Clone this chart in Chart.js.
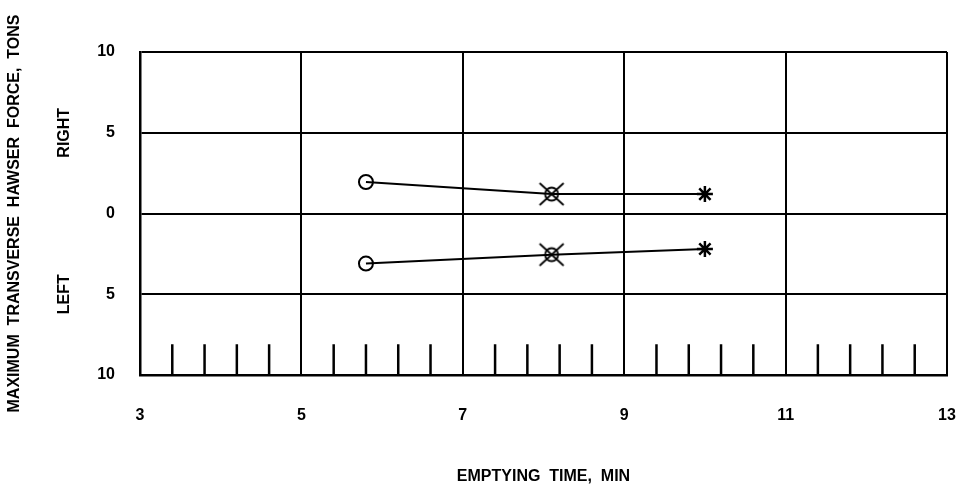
<!DOCTYPE html>
<html>
<head>
<meta charset="utf-8">
<script src="https://cdn.jsdelivr.net/npm/chart.js@4.4.1/dist/chart.umd.min.js"></script>
<style>
html,body{margin:0;padding:0;background:#fff;}
#wrap{width:960px;height:486px;position:relative;}
</style>
</head>
<body>
<div id="wrap"><canvas id="c" width="960" height="486"></canvas></div>
<script>
// ---- data ----
const emptyingTime = [5.8, 8.1, 10.0];           // minutes
const rightForce   = [1.95, 1.2, 1.2];           // tons (right, positive)
const leftForce    = [-3.1, -2.55, -2.2];        // tons (left, negative)
const minorTickX   = [3.4,3.8,4.2,4.6, 5.4,5.8,6.2,6.6, 7.4,7.8,8.2,8.6, 9.4,9.8,10.2,10.6, 11.4,11.8,12.2,12.6];
const minorTickTop = -8.1;
const xTickLabels  = ['3','5','7','9','11','13'];
const yTickLabels  = ['10','5','0','5','10'];
const xTitle = 'EMPTYING  TIME,  MIN';
const yTitle = 'MAXIMUM  TRANSVERSE  HAWSER  FORCE,  TONS';
const sideLabels = [{text:'RIGHT', y:5}, {text:'LEFT', y:-5}];

// ---- marker images ----
function crossedCircle(){
  const s = 28, c = document.createElement('canvas');
  c.width = s; c.height = s;
  const g = c.getContext('2d');
  g.strokeStyle = '#000'; g.lineWidth = 1.8;
  g.beginPath(); g.arc(s/2, s/2, 6.5, 0, Math.PI*2); g.stroke();
  g.beginPath(); g.moveTo(2,3); g.lineTo(26,25); g.moveTo(26,3); g.lineTo(2,25); g.stroke();
  return c;
}
const xc = crossedCircle();
const styles = ['circle', xc, 'star'];

function pts(xs, ys){ return xs.map((x,i)=>({x:x, y:ys[i]})); }
const tickPts = [];
minorTickX.forEach(x=>{ tickPts.push({x:x,y:-10}); tickPts.push({x:x,y:minorTickTop}); tickPts.push({x:x,y:null}); });

const FONT = "'Liberation Sans', Arial, sans-serif";

const sidePlugin = {
  id:'side',
  afterDraw(chart){
    const ctx = chart.ctx, ys = chart.scales.y;
    ctx.save();
    ctx.fillStyle = '#000';
    ctx.font = 'bold 16px ' + FONT;
    ctx.textAlign = 'center'; ctx.textBaseline = 'middle';
    sideLabels.forEach(l=>{
      ctx.save();
      ctx.translate(65, ys.getPixelForValue(l.y));
      ctx.rotate(-Math.PI/2);
      ctx.fillText(l.text, 0, 0);
      ctx.restore();
    });
    ctx.restore();
  }
};

new Chart(document.getElementById('c'), {
  type: 'scatter',
  data: {
    datasets: [
      { data: pts(emptyingTime, rightForce), showLine:true, borderColor:'#000', borderWidth:2,
        pointStyle: styles, pointRadius:[7,12,8], pointBorderWidth:[2,1.8,2.5], pointBackgroundColor:'rgba(0,0,0,0)', pointBorderColor:'#000', tension:0 },
      { data: pts(emptyingTime, leftForce), showLine:true, borderColor:'#000', borderWidth:2,
        pointStyle: styles, pointRadius:[7,12,8], pointBorderWidth:[2,1.8,2.5], pointBackgroundColor:'rgba(0,0,0,0)', pointBorderColor:'#000', tension:0 },
      { data: tickPts, showLine:true, spanGaps:false, borderColor:'#000', borderWidth:2.5, pointRadius:0 }
    ]
  },
  options: {
    responsive:false, animation:false,
    layout:{ padding:{ left:0, right:13, top:52, bottom:0 } },
    plugins:{ legend:{display:false}, tooltip:{enabled:false} },
    scales:{
      x:{
        type:'linear', min:3, max:13,
        afterFit(s){ s.height = 111; s.paddingLeft = 0; s.paddingRight = 0; },
        afterBuildTicks(s){ s.ticks = xTickLabels.map(v=>({value:+v})); },
        ticks:{ color:'#000', padding:31, font:{family:FONT, size:16, weight:'bold'}, callback:(v)=>String(v) },
        grid:{ color:'#000', lineWidth:2, drawTicks:false },
        border:{ color:'#000', width:2.5 },
        title:{ display:true, text:xTitle, color:'#000', font:{family:FONT, size:16, weight:'bold'}, padding:{top:4,bottom:0} }
      },
      y:{
        type:'linear', min:-10, max:10,
        afterFit(s){ s.width = 140; s.paddingTop = 0; s.paddingBottom = 0; },
        afterBuildTicks(s){ s.ticks = [10,5,0,-5,-10].map(v=>({value:v})); },
        ticks:{ color:'#000', padding:25, font:{family:FONT, size:16, weight:'bold'}, callback:(v)=>yTickLabels[[10,5,0,-5,-10].indexOf(v)] },
        grid:{ color:'#000', lineWidth:2, drawTicks:false },
        border:{ color:'#000', width:2.5 },
        title:{ display:true, text:yTitle, color:'#000', font:{family:FONT, size:16, weight:'bold'}, padding:{top:5,bottom:0} }
      }
    }
  },
  plugins:[sidePlugin]
});
</script>
</body>
</html>
